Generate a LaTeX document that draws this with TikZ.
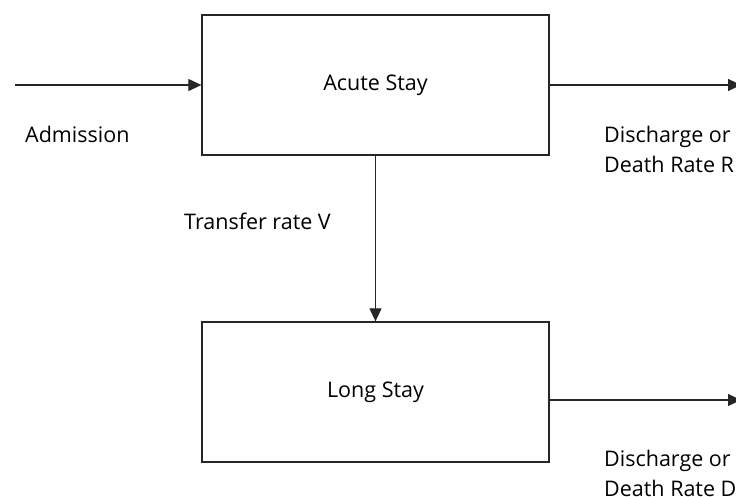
\documentclass[tikz,border=0pt]{standalone}
\usepackage{fontspec}
\setmainfont{Open Sans}
\usetikzlibrary{arrows.meta}
\begin{document}
\begin{tikzpicture}[x=1pt,y=-1pt,
  box/.style={draw=black!85,line width=1.3pt,minimum width=347pt,minimum height=140pt,inner sep=0pt,font=\fontsize{21.5}{26}\selectfont},
  flow/.style={draw=black!85,line width=1.1pt,-{Triangle[length=13pt,width=12pt]}},
  lbl/.style={anchor=west,inner sep=0pt,align=left,font=\fontsize{21.5}{30}\selectfont}]
\useasboundingbox[fill=white] (0,0) rectangle (736,496);
\node[box] (acute) at (375.5,85) {\raisebox{-2pt}{Acute Stay}};
\node[box] (long) at (375.5,392) {\raisebox{-2pt}{Long Stay}};
\coordinate (in) at (15,85);
\coordinate (out1) at (741,85);
\coordinate (out2) at (741,400);
\draw[flow] (in) -- (acute.west);
\draw[flow] (acute.east) -- (out1);
\draw[flow] (acute.south) -- (long.north);
\draw[flow] (long.east |- out2) -- (out2);
\node[lbl] (adm) at (25,134) {Admission};
\node[lbl] (tr) at (184,221) {Transfer rate V};
\node[lbl] (d1) at (604,149) {Discharge or\\Death Rate R};
\node[lbl] (d2) at (604,473) {Discharge or\\Death Rate D};
\end{tikzpicture}
\end{document}
